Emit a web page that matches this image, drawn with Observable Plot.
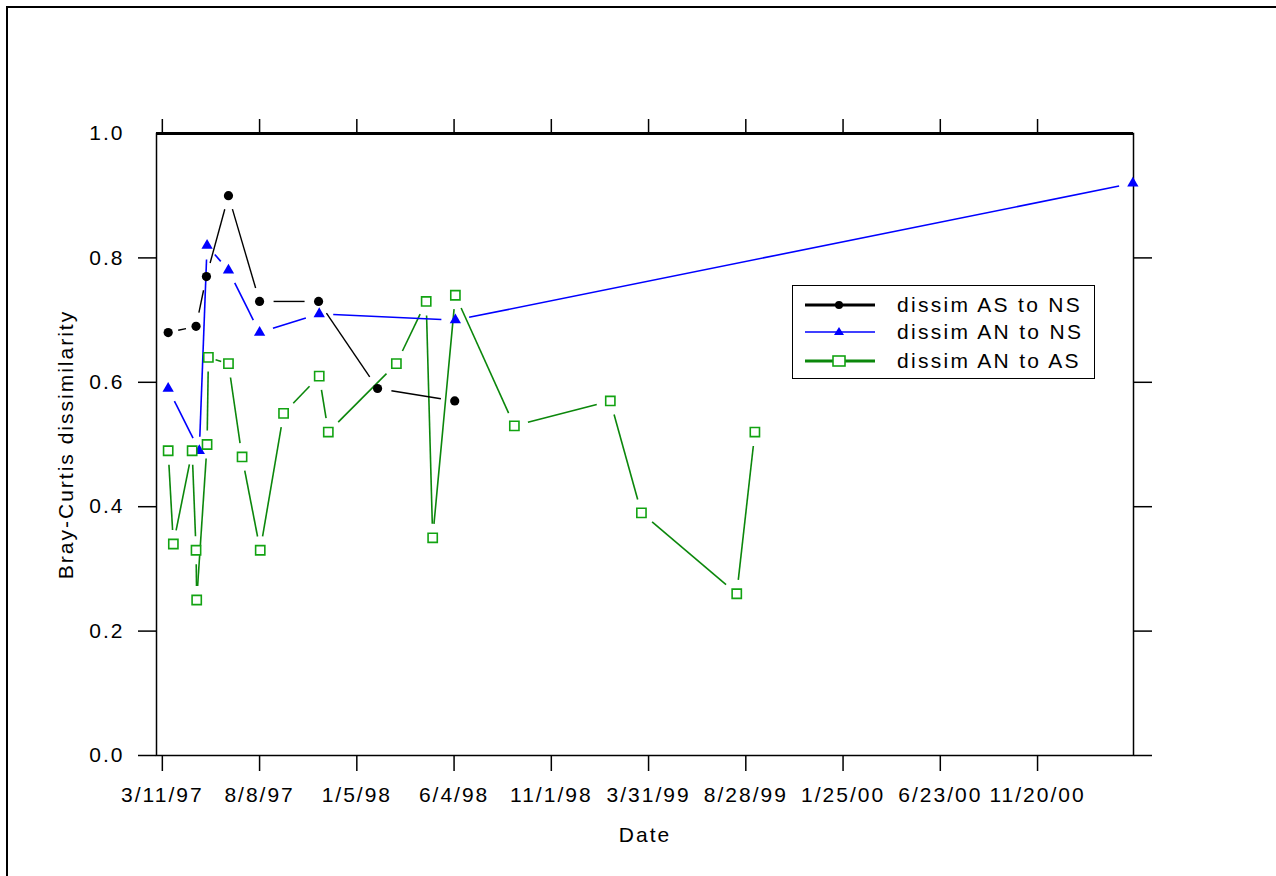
<!DOCTYPE html>
<html>
<head>
<meta charset="utf-8">
<script src="https://cdn.jsdelivr.net/npm/d3@7"></script>
<script src="https://cdn.jsdelivr.net/npm/@observablehq/plot@0.6"></script>
<style>
  html, body { margin: 0; padding: 0; background: white; overflow: hidden; }
  #wrap { position: relative; width: 1276px; height: 876px; }
  #chart { position: absolute; left: 0; top: 0; }
  #outer { position: absolute; left: 6px; top: 6px; width: 2000px; height: 2000px;
           border-left: 2px solid black; border-top: 2px solid black; pointer-events: none; z-index: 2; }
  #legend { position: absolute; left: 792px; top: 285px; width: 303px; height: 94px; box-sizing: border-box;
            border: 1.5px solid black; background: white; z-index: 3;
            font-family: 'Liberation Sans', Arial, sans-serif; font-size: 21px; letter-spacing: 2.3px; }
  .row { position: absolute; left: 0; height: 24px; width: 100%; }
  .row svg { position: absolute; left: 10px; top: 0; }
  .row span { position: absolute; left: 104px; top: 0; line-height: 24px; white-space: nowrap; }
</style>
</head>
<body>
<div id="wrap">
  <div id="chart"></div>
  <div id="outer"></div>
  <div id="legend"></div>
</div>
<script>
// ---- data ----
const xDomain = ["3/2/97", "4/17/01"];
const tickLabels = ["3/11/97", "8/8/97", "1/5/98", "6/4/98", "11/1/98", "3/31/99", "8/28/99", "1/25/00", "6/23/00", "11/20/00"];
const yTicks = [0, 0.2, 0.4, 0.6, 0.8, 1.0];

const asnsDates = ["3/20/97", "5/2/97", "5/18/97", "6/21/97", "8/8/97", "11/7/97", "2/6/98", "6/5/98"];
const asnsValues = [0.68, 0.69, 0.77, 0.90, 0.73, 0.73, 0.59, 0.57];

const annsDates = ["3/20/97", "5/7/97", "5/19/97", "6/21/97", "8/8/97", "11/8/97", "6/6/98", "4/16/01"];
const annsValues = [0.59, 0.49, 0.82, 0.78, 0.68, 0.71, 0.70, 0.92];

const anasDates = ["3/20/97", "3/28/97", "4/26/97", "5/2/97", "5/3/97", "5/19/97", "5/21/97", "6/21/97", "7/12/97", "8/9/97", "9/14/97", "11/8/97", "11/22/97", "3/7/98", "4/22/98", "5/2/98", "6/6/98", "9/5/98", "1/31/99", "3/20/99", "8/14/99", "9/11/99"];
const anasValues = [0.49, 0.34, 0.49, 0.33, 0.25, 0.50, 0.64, 0.63, 0.48, 0.33, 0.55, 0.61, 0.52, 0.63, 0.73, 0.35, 0.74, 0.53, 0.57, 0.39, 0.26, 0.52];

const legendLabels = ["dissim AS to NS", "dissim AN to NS", "dissim AN to AS"];
const yTitle = "Bray-Curtis dissimilarity";
const xTitle = "Date";

// ---- build ----
const parse = d3.utcParse("%m/%d/%y");
const tickDates = tickLabels.map(parse);
const labelByTime = new Map(tickDates.map((d, i) => [+d, tickLabels[i]]));

const rows = (dates, values) => dates.map((d, i) => ({date: parse(d), value: values[i]}));
const asns = rows(asnsDates, asnsValues);
const anns = rows(annsDates, annsValues);
const anas = rows(anasDates, anasValues);

const base = {
  width: 1276, height: 876,
  marginLeft: 156, marginRight: 143, marginTop: 133, marginBottom: 121,
  x: {type: "utc", domain: xDomain.map(parse)},
  y: {domain: [0, 1]}
};

// probe plot to get the library's scales, used to leave small gaps at markers
const probe = Plot.plot({...base, marks: [Plot.frame()]});
const sx = probe.scale("x"), sy = probe.scale("y");

function gapped(data, gap) {
  const out = [];
  for (let i = 1; i < data.length; i++) {
    const a = data[i - 1], b = data[i];
    const ax = sx.apply(a.date), ay = sy.apply(a.value);
    const bx = sx.apply(b.date), by = sy.apply(b.value);
    const L = Math.hypot(bx - ax, by - ay);
    if (L < 1) continue;
    const g = Math.min(gap, L * 0.36);
    const ux = (bx - ax) / L, uy = (by - ay) / L;
    out.push({
      x1: sx.invert(ax + ux * g), y1: sy.invert(ay + uy * g),
      x2: sx.invert(bx - ux * g), y2: sy.invert(by - uy * g)
    });
  }
  return out;
}

const green = "#0b870b", greenMark = "#12a312", blue = "#0000ff";

const chart = Plot.plot({
  ...base,
  style: {fontFamily: "'Liberation Sans', Arial, sans-serif", fontSize: "21px", letterSpacing: "2px", color: "black", background: "white"},
  marks: [
    Plot.axisX({anchor: "bottom", ticks: tickDates, tickSize: 16, tickPadding: 16, tickFormat: d => labelByTime.get(+d), label: null, strokeWidth: 1.5}),
    Plot.axisX({anchor: "top", ticks: tickDates, tickSize: 15, tickFormat: () => "", label: null, strokeWidth: 1.5}),
    Plot.axisY({anchor: "left", ticks: yTicks, tickSize: 0, tickPadding: 32, tickFormat: d3.format(".1f"), label: null}),
    Plot.axisY({anchor: "left", ticks: yTicks.slice(0, 5), tickSize: 18, tickFormat: () => "", label: null, strokeWidth: 1.5}),
    Plot.axisY({anchor: "right", ticks: yTicks.slice(0, 5), tickSize: 18, tickFormat: () => "", label: null, strokeWidth: 1.5}),
    Plot.frame({strokeWidth: 1.5}),
    Plot.ruleY([1], {strokeWidth: 3}),
    Plot.text([yTitle], {text: d => d, frameAnchor: "left", textAnchor: "middle", rotate: -90, dx: -90}),
    Plot.text([xTitle], {text: d => d, frameAnchor: "bottom", dy: 86}),
    Plot.link(gapped(anas, 14), {x1: "x1", y1: "y1", x2: "x2", y2: "y2", stroke: green, strokeWidth: 1.6}),
    Plot.link(gapped(anns, 14), {x1: "x1", y1: "y1", x2: "x2", y2: "y2", stroke: blue, strokeWidth: 1.6}),
    Plot.link(gapped(asns, 14), {x1: "x1", y1: "y1", x2: "x2", y2: "y2", stroke: "black", strokeWidth: 1.4}),
    Plot.dot(anns, {x: "date", y: "value", symbol: "triangle", r: 4.2, fill: blue, stroke: "none"}),
    Plot.dot(asns, {x: "date", y: "value", symbol: "circle", r: 4.6, fill: "black", stroke: "none"}),
    Plot.dot(anas, {x: "date", y: "value", symbol: "square", r: 5.2, fill: "white", stroke: greenMark, strokeWidth: 1.6})
  ]
});
document.getElementById("chart").append(chart);

// ---- legend ----
const legend = document.getElementById("legend");
const rowTops = [7, 34, 63];
const ns = "http://www.w3.org/2000/svg";
legendLabels.forEach((lab, i) => {
  const row = document.createElement("div");
  row.className = "row";
  row.style.top = rowTops[i] + "px";
  const svg = document.createElementNS(ns, "svg");
  svg.setAttribute("width", 80); svg.setAttribute("height", 24);
  const line = document.createElementNS(ns, "line");
  line.setAttribute("x1", 2); line.setAttribute("x2", 72); line.setAttribute("y1", 12); line.setAttribute("y2", 12);
  line.setAttribute("stroke", i === 0 ? "black" : i === 1 ? blue : green);
  line.setAttribute("stroke-width", i === 1 ? 1.6 : 3);
  svg.append(line);
  let m;
  if (i === 0) {
    m = document.createElementNS(ns, "circle");
    m.setAttribute("cx", 36); m.setAttribute("cy", 12); m.setAttribute("r", 4); m.setAttribute("fill", "black");
  } else if (i === 1) {
    m = document.createElementNS(ns, "polygon");
    m.setAttribute("points", "36,7 41,15 31,15"); m.setAttribute("fill", blue);
  } else {
    m = document.createElementNS(ns, "rect");
    m.setAttribute("x", 30); m.setAttribute("y", 7); m.setAttribute("width", 12); m.setAttribute("height", 10);
    m.setAttribute("fill", "white"); m.setAttribute("stroke", greenMark); m.setAttribute("stroke-width", 1.6);
  }
  svg.append(m);
  const span = document.createElement("span");
  span.textContent = lab;
  row.append(svg, span);
  legend.append(row);
});
</script>
</body>
</html>
